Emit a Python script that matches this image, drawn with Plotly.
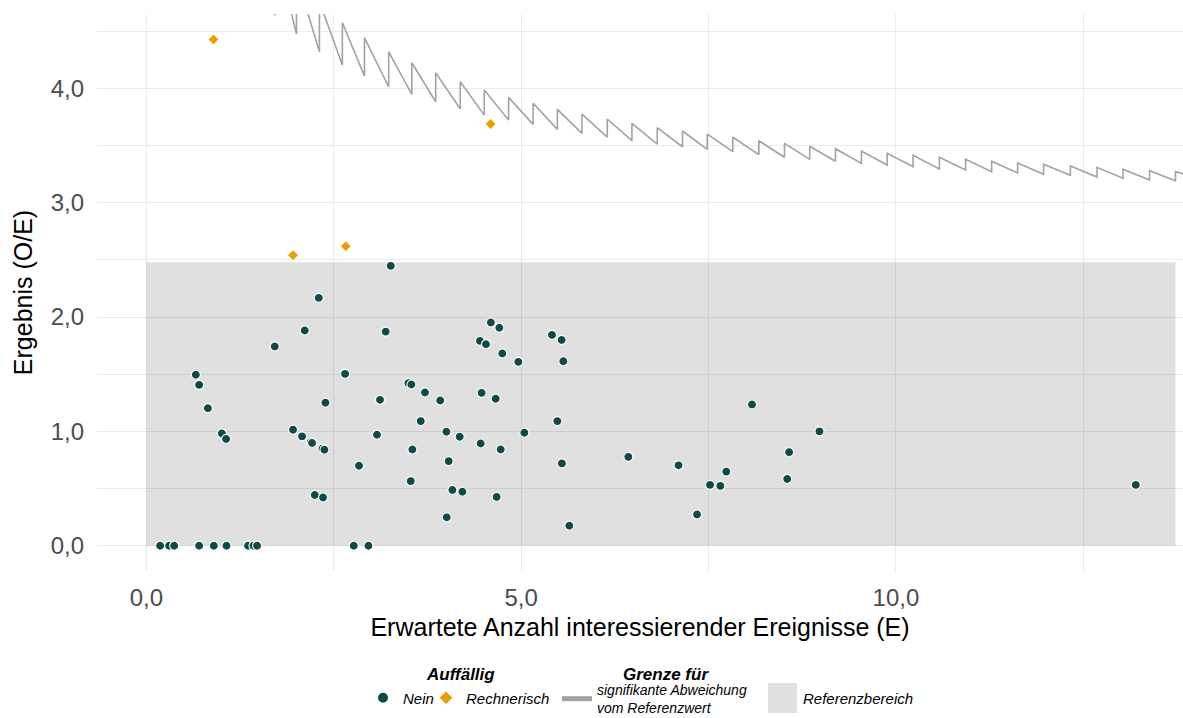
import plotly.graph_objects as go

# ---------------- data ----------------
# Unauffällig ("Nein"): expected events E and result O/E
nein_E = [0.184, 0.304, 0.371, 0.704, 0.900, 1.069, 1.357, 1.429, 1.477, 2.767, 2.963,
          3.26, 2.30, 2.113, 3.193, 1.713, 0.66, 2.651, 0.704, 3.496, 3.536, 3.717, 3.92,
          0.821, 2.389, 3.117, 3.66, 1.007, 1.064, 1.957, 2.077, 2.193, 2.211, 2.349, 2.376,
          3.077, 3.549, 2.837, 3.527, 2.247, 2.357,
          4.596, 4.709, 4.451, 4.531, 4.749, 4.963, 5.411, 5.54, 5.563, 4.473, 4.66, 5.483,
          4.003, 4.18, 4.46, 4.727, 5.043, 4.033, 5.544, 6.43, 4.083, 4.216, 4.673, 4.007, 5.643,
          8.08, 8.98, 8.575, 7.1, 7.737, 7.52, 7.658, 8.55, 7.347, 13.2]
nein_OE = [0.0, 0.0, 0.0, 0.0, 0.0, 0.0, 0.0, 0.0, 0.0, 0.0, 0.0,
           2.448, 2.168, 1.882, 1.873, 1.742, 1.495, 1.503, 1.407, 1.422, 1.41, 1.34, 1.27,
           1.203, 1.25, 1.276, 1.09, 0.982, 0.933, 1.014, 0.956, 0.906, 0.898, 0.848, 0.839,
           0.970, 0.842, 0.699, 0.565, 0.443, 0.422,
           1.952, 1.906, 1.792, 1.763, 1.681, 1.608, 1.844, 1.80, 1.614, 1.337, 1.285, 1.09,
           0.997, 0.953, 0.894, 0.842, 0.988, 0.740, 0.72, 0.777, 0.487, 0.472, 0.426, 0.248, 0.175,
           1.235, 1.0, 0.817, 0.703, 0.648, 0.532, 0.523, 0.584, 0.273, 0.532]

# Rechnerisch auffällig
auff_E = [0.895, 4.593, 1.957, 2.66]
auff_OE = [4.429, 3.689, 2.541, 2.62]

# Grenze für signifikante Abweichung (sawtooth): jump positions with value before/after jump
grenze_start = (1.40, 5.72)
grenze_jump_E = [1.715, 2.003, 2.309, 2.615, 2.91, 3.233, 3.542, 3.86, 4.188, 4.508, 4.833,
                 5.16, 5.483, 5.811, 6.149, 6.478, 6.816, 7.153, 7.483, 7.824, 8.171, 8.513,
                 8.85, 9.193, 9.54, 9.883, 10.229, 10.58, 10.93, 11.277, 11.624, 11.97, 12.327,
                 12.683, 13.03, 13.384, 13.73]
grenze_low = [4.64, 4.476, 4.321, 4.205, 4.108, 4.015, 3.948, 3.884, 3.82, 3.767, 3.724,
              3.686, 3.642, 3.607, 3.575, 3.543, 3.514, 3.49, 3.467, 3.447, 3.421, 3.398,
              3.38, 3.363, 3.345, 3.33, 3.316, 3.295, 3.287, 3.272, 3.26, 3.249, 3.24,
              3.226, 3.214, 3.199, 3.193]
grenze_high = [5.25, 4.99, 4.76, 4.575, 4.443, 4.321, 4.225, 4.137, 4.059, 3.986, 3.922,
               3.870, 3.817, 3.776, 3.733, 3.695, 3.657, 3.628, 3.601, 3.573, 3.543, 3.52,
               3.494, 3.473, 3.453, 3.433, 3.415, 3.398, 3.38, 3.363, 3.348, 3.337, 3.322,
               3.310, 3.293, 3.281, 3.272]
grenze_end = (13.9, 3.24)

# Referenzbereich
ref_E = (0.0, 13.73)
ref_OE = (0.0, 2.48)

# ---------------- styling ----------------
FONT = "Liberation Sans"
TEAL = "#0E4A47"
ORANGE = "#E69F00"
LINEGRAY = "#A3A3A3"
GRID = "#EBEBEB"
W, H = 1183, 718

line_x = [grenze_start[0]]
line_y = [grenze_start[1]]
for e, lo, hi in zip(grenze_jump_E, grenze_low, grenze_high):
    line_x += [e, e]
    line_y += [lo, hi]
line_x.append(grenze_end[0])
line_y.append(grenze_end[1])

fig = go.Figure()

fig.add_trace(go.Scatter(
    x=[ref_E[0], ref_E[1], ref_E[1], ref_E[0], ref_E[0]],
    y=[ref_OE[0], ref_OE[0], ref_OE[1], ref_OE[1], ref_OE[0]],
    mode="lines", fill="toself", fillcolor="rgba(0,0,0,0.12)",
    line=dict(width=0), hoverinfo="skip", showlegend=False, name="Referenzbereich"))

fig.add_trace(go.Scatter(
    x=line_x, y=line_y, mode="lines",
    line=dict(color=LINEGRAY, width=1.6),
    name="<i>signifikante Abweichung<br>vom Referenzwert</i>",
    legend="legend2", showlegend=True))

fig.add_trace(go.Scatter(
    x=nein_E, y=nein_OE, mode="markers",
    marker=dict(color=TEAL, size=9, symbol="circle", line=dict(color="white", width=1.1)),
    name="<i>Nein</i>", legend="legend"))

fig.add_trace(go.Scatter(
    x=auff_E, y=auff_OE, mode="markers",
    marker=dict(color=ORANGE, size=8, symbol="diamond", line=dict(color="white", width=0.6)),
    name="<i>Rechnerisch</i>", legend="legend3"))

# plot area: px x 97..1183, y 14..571
def px_x(px):
    return (px - 97) / 1086.0

def px_y(py):
    return (571 - py) / 557.0

def leg(left_px, center_py, size=15):
    return dict(
        orientation="h", xref="container", yref="container",
        x=left_px / W, y=(H - center_py) / H, xanchor="left", yanchor="middle",
        bgcolor="rgba(0,0,0,0)", font=dict(size=size, family=FONT, color="#000000"),
        itemsizing="constant", itemwidth=30, tracegroupgap=0,
    )

fig.update_layout(
    width=W, height=H, autosize=False,
    margin=dict(l=97, r=0, t=14, b=147, pad=0, autoexpand=False),
    paper_bgcolor="white", plot_bgcolor="white",
    separators=",.",
    font=dict(family=FONT, color="#000000"),
    xaxis=dict(
        range=[-0.6585, 13.83], tick0=0, dtick=5, tickformat=".1f",
        showgrid=True, gridcolor=GRID, gridwidth=1.3,
        minor=dict(tick0=0, dtick=2.5, showgrid=True, gridcolor=GRID, gridwidth=0.8),
        zeroline=False, showline=False, ticks="", automargin=False,
        tickfont=dict(size=24, color="#4D4D4D", family=FONT),
        ticklabelstandoff=10,
        title=dict(text="Erwartete Anzahl interessierender Ereignisse (E)",
                   font=dict(size=25, color="#000000", family=FONT), standoff=8),
    ),
    yaxis=dict(
        range=[-0.2215, 4.6515], tick0=0, dtick=1, tickformat=".1f",
        showgrid=True, gridcolor=GRID, gridwidth=1.3,
        minor=dict(tick0=0, dtick=0.5, showgrid=True, gridcolor=GRID, gridwidth=0.8),
        zeroline=False, showline=False, ticks="", automargin=False,
        tickfont=dict(size=24, color="#4D4D4D", family=FONT),
        ticklabelstandoff=12,
        title=dict(text="Ergebnis (O/E)",
                   font=dict(size=25, color="#000000", family=FONT), standoff=10),
    ),
    legend=leg(363, 698),
    legend3=leg(426, 698),
    legend2=leg(557, 699, size=14),
    showlegend=True,
)

# legend titles
for txt, cx in [("<b><i>Auffällig</i></b>", 460), ("<b><i>Grenze für</i></b>", 666)]:
    fig.add_annotation(text=txt, xref="paper", yref="paper",
                       x=px_x(cx), y=px_y(674), xanchor="center", yanchor="middle",
                       showarrow=False, font=dict(size=17, family=FONT, color="#000000"))

# Referenzbereich legend key (drawn manually to match the large square key)
fig.add_shape(type="rect", xref="paper", yref="paper",
              x0=px_x(768), x1=px_x(797), y0=px_y(713), y1=px_y(683),
              fillcolor="#E0E0E0", line=dict(width=0))
fig.add_annotation(text="<i>Referenzbereich</i>", xref="paper", yref="paper",
                   x=px_x(801), y=px_y(698), xanchor="left", yanchor="middle",
                   showarrow=False, font=dict(size=15, family=FONT, color="#000000"))

fig.write_html("out.html", config={"displayModeBar": False},
               post_script="document.body.style.margin='0';")
